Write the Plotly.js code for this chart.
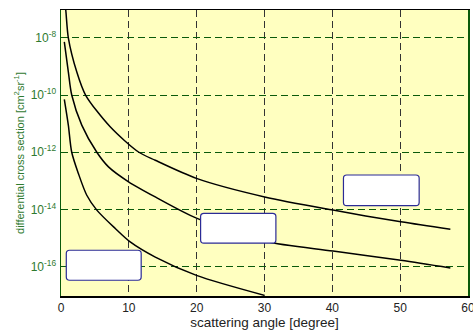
<!DOCTYPE html>
<html>
<head>
<meta charset="utf-8">
<script src="https://cdn.plot.ly/plotly-3.0.1.min.js"></script>
<style>html,body{margin:0;padding:0;background:#fff;}#chart{width:473px;height:330px;}</style>
</head>
<body>
<div id="chart"></div>
<script>
// scattering angle [degree] and log10 of cross section
var angleTop = [0.55, 0.70, 1.08, 2.32, 3.62, 7.25, 11.43, 13.9, 20.07, 30.03, 40.1, 50.1, 57.4];
var logTop   = [-6.8, -7.03, -8.0, -9.19, -10.0, -11.11, -11.99, -12.28, -12.92, -13.56, -14.02, -14.43, -14.69];

var angleMid = [0.49, 1.08, 1.58, 3.06, 5.28, 7.0, 9.96, 13.9, 19.97, 30.03, 40.1, 50.1, 57.4];
var logMid   = [-8.14, -9.19, -10.0, -11.05, -12.0, -12.51, -13.03, -13.56, -14.30, -15.11, -15.45, -15.77, -16.04];

var angleBot = [0.49, 1.08, 1.58, 2.56, 3.80, 5.28, 7.99, 10.2, 13.9, 19.97, 30.03];
var logBot   = [-10.15, -11.05, -12.0, -12.74, -13.50, -14.02, -14.66, -15.13, -15.66, -16.30, -17.0];

var yTickVals = [1e-16, 1e-14, 1e-12, 1e-10, 1e-8];
var yTickText = ['10<sup>-16</sup>', '10<sup>-14</sup>', '10<sup>-12</sup>', '10<sup>-10</sup>', '10<sup>-8</sup>'];
var xTickVals = [0, 10, 20, 30, 40, 50, 60];

// empty label boxes in paper coordinates [x0, x1, y0, y1]
var boxes = [
  [0.013, 0.197, 0.055, 0.160],
  [0.343, 0.528, 0.185, 0.289],
  [0.694, 0.880, 0.316, 0.423]
];

function pow10(a){ return a.map(function(v){ return Math.pow(10, v); }); }

var lineStyle = {color: '#000000', width: 1.5, shape: 'spline', smoothing: 0.8};
var traces = [
  {x: angleTop, y: pow10(logTop), mode: 'lines', line: lineStyle, hoverinfo: 'skip'},
  {x: angleMid, y: pow10(logMid), mode: 'lines', line: lineStyle, hoverinfo: 'skip'},
  {x: angleBot, y: pow10(logBot), mode: 'lines', line: lineStyle, hoverinfo: 'skip'}
];

function roundRect(b){
  var x0=b[0], x1=b[1], y0=b[2], y1=b[3];
  var rx = 0.008, ry = 0.011;
  return 'M' + (x0+rx) + ',' + y0 +
    ' L' + (x1-rx) + ',' + y0 + ' Q' + x1 + ',' + y0 + ' ' + x1 + ',' + (y0+ry) +
    ' L' + x1 + ',' + (y1-ry) + ' Q' + x1 + ',' + y1 + ' ' + (x1-rx) + ',' + y1 +
    ' L' + (x0+rx) + ',' + y1 + ' Q' + x0 + ',' + y1 + ' ' + x0 + ',' + (y1-ry) +
    ' L' + x0 + ',' + (y0+ry) + ' Q' + x0 + ',' + y0 + ' ' + (x0+rx) + ',' + y0 + ' Z';
}

var shapes = boxes.map(function(b){
  return {type: 'path', xref: 'paper', yref: 'paper', path: roundRect(b),
          fillcolor: '#ffffff', line: {color: '#2b2b96', width: 1.2}, layer: 'above'};
});

var green = '#2f7a2f';
var layout = {
  width: 473, height: 330,
  margin: {l: 61, r: 5, t: 10, b: 34, pad: 0},
  paper_bgcolor: '#ffffff',
  plot_bgcolor: '#ffffc0',
  showlegend: false,
  font: {family: 'Liberation Sans, Arial, sans-serif', size: 12, color: '#000'},
  xaxis: {
    range: [0, 60], tickvals: xTickVals, ticks: '', ticklabeloverflow: 'allow',
    showline: true, linecolor: '#000000', linewidth: 1.5, mirror: true,
    showgrid: true, gridcolor: '#333333', gridwidth: 1, griddash: '7px,4px',
    zeroline: false, tickfont: {size: 12, color: '#222'}, ticklabelstandoff: 0,
    title: {text: 'scattering angle [degree]', font: {size: 13.5, color: '#222'}, standoff: 2}
  },
  yaxis: {
    type: 'log', range: [-17.02, -7.03], tickvals: yTickVals, ticktext: yTickText, ticks: '',
    showline: true, linecolor: '#0a5a0a', linewidth: 1.5, mirror: true,
    showgrid: true, gridcolor: '#0a5a0a', gridwidth: 1, griddash: '7px,4px',
    zeroline: false, tickfont: {size: 12, color: green}, ticklabelstandoff: 1,
    title: {text: 'differential cross section [cm<sup>2</sup>sr<sup>-1</sup>]', font: {size: 11, color: green}, standoff: 4}
  },
  shapes: shapes
};

Plotly.newPlot('chart', traces, layout, {staticPlot: true, displayModeBar: false});
</script>
</body>
</html>
